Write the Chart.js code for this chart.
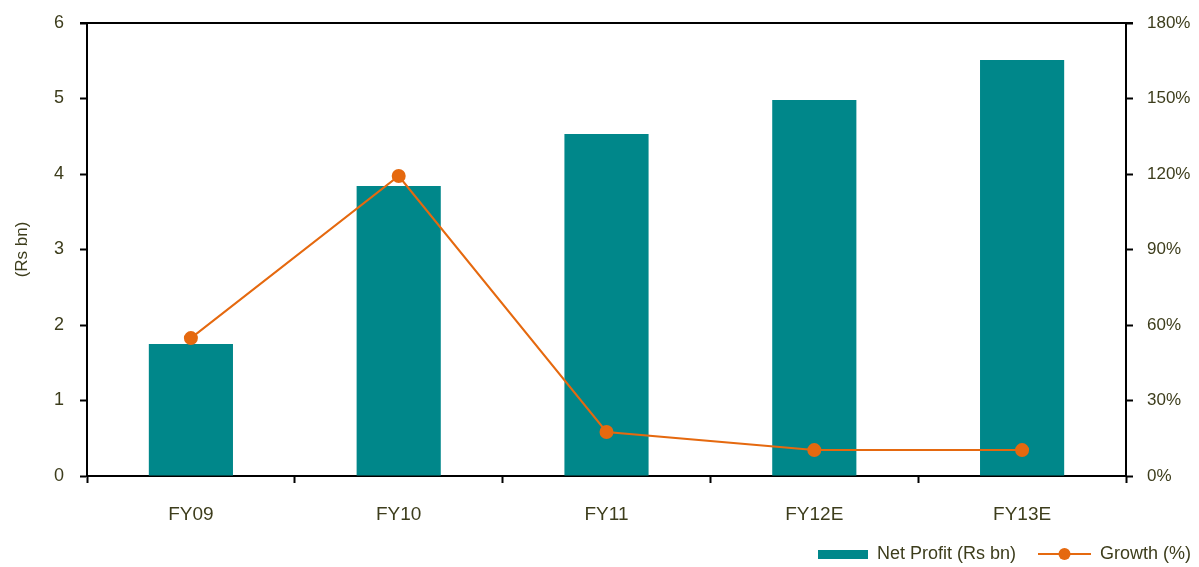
<!DOCTYPE html>
<html>
<head>
<meta charset="utf-8">
<script src="https://cdn.jsdelivr.net/npm/chart.js@4.4.1/dist/chart.umd.min.js"></script>
<style>
  html, body { margin: 0; padding: 0; background: #fff; }
  #wrap { width: 1199px; height: 567px; position: relative; }
</style>
</head>
<body>
<div id="wrap"><canvas id="chart"></canvas></div>
<script>
// data
const categories = ['FY09', 'FY10', 'FY11', 'FY12E', 'FY13E'];
const netProfit = [1.75, 3.84, 4.53, 4.98, 5.51];
const growth = [54.8, 119.2, 17.5, 10.3, 10.3];
const leftTicks = [0, 1, 2, 3, 4, 5, 6];
const rightTicks = [0, 30, 60, 90, 120, 150, 180];

const TEAL = '#00878A';
const ORANGE = '#E5690F';
const TEXT = '#3d3d1c';
const FONT = "'Liberation Sans', Arial, sans-serif";
const SW = 67; // legend swatch width (transparent lead-in + mark)

Chart.defaults.font.family = FONT;
Chart.defaults.color = TEXT;

// legend swatches
function barSwatch() {
    const c = document.createElement('canvas');
    c.width = SW; c.height = 14;
    const g = c.getContext('2d');
    g.fillStyle = TEAL;
    g.fillRect(SW - 50, 3, 50, 9);
    return c;
}
function lineSwatch() {
    const c = document.createElement('canvas');
    c.width = SW; c.height = 14;
    const g = c.getContext('2d');
    g.strokeStyle = ORANGE;
    g.lineWidth = 2;
    g.beginPath(); g.moveTo(SW - 53, 7); g.lineTo(SW, 7); g.stroke();
    g.fillStyle = ORANGE;
    g.beginPath(); g.arc(SW - 26.5, 7, 6, 0, Math.PI * 2); g.fill();
    return c;
}

// top frame line of the plot box
const topBorder = {
    id: 'topBorder',
    afterDraw(chart) {
        const { ctx, chartArea } = chart;
        ctx.save();
        ctx.strokeStyle = '#000';
        ctx.lineWidth = 2;
        ctx.beginPath();
        ctx.moveTo(chartArea.left - 7, chartArea.top);
        ctx.lineTo(chartArea.right + 7, chartArea.top);
        ctx.stroke();
        ctx.restore();
    }
};

function fixWidth(w) {
    return s => {
        s.width = w;
        s.paddingTop = 0;
        s.paddingBottom = 0;
    };
}

new Chart(document.getElementById('chart'), {
    data: {
        labels: categories,
        datasets: [
            {
                type: 'line',
                label: 'Growth (%)',
                data: growth,
                yAxisID: 'y1',
                borderColor: ORANGE,
                backgroundColor: ORANGE,
                borderWidth: 2,
                pointRadius: 6,
                pointHoverRadius: 6,
                tension: 0,
                order: 1
            },
            {
                type: 'bar',
                label: 'Net Profit (Rs bn)',
                data: netProfit,
                yAxisID: 'y',
                backgroundColor: TEAL,
                borderWidth: 0,
                barPercentage: 0.405,
                categoryPercentage: 1,
                order: 2
            }
        ]
    },
    options: {
        responsive: true,
        maintainAspectRatio: false,
        animation: false,
        layout: { padding: { top: 23, left: 0, right: 0, bottom: -6 } },
        scales: {
            x: {
                offset: true,
                afterFit: s => { s.height = 61; },
                grid: {
                    offset: true,
                    drawOnChartArea: false,
                    tickLength: 7,
                    tickWidth: 2,
                    tickColor: '#000'
                },
                border: { color: '#000', width: 2 },
                ticks: { padding: 20, font: { size: 19 }, color: TEXT }
            },
            y: {
                position: 'left',
                min: 0,
                max: 6,
                afterBuildTicks: s => { s.ticks = leftTicks.map(v => ({ value: v })); },
                afterFit: fixWidth(87),
                grid: {
                    drawOnChartArea: false,
                    tickLength: 7,
                    tickWidth: 2,
                    tickColor: '#000'
                },
                border: { color: '#000', width: 2 },
                ticks: { padding: 16, font: { size: 18 }, color: TEXT },
                title: {
                    display: true,
                    text: '(Rs bn)',
                    font: { size: 17 },
                    color: TEXT,
                    padding: { top: 12, bottom: 0 }
                }
            },
            y1: {
                position: 'right',
                min: 0,
                max: 180,
                afterBuildTicks: s => { s.ticks = rightTicks.map(v => ({ value: v })); },
                afterFit: fixWidth(73),
                grid: {
                    drawOnChartArea: false,
                    tickLength: 7,
                    tickWidth: 2,
                    tickColor: '#000'
                },
                border: { color: '#000', width: 2 },
                ticks: {
                    padding: 14,
                    font: { size: 17 },
                    color: TEXT,
                    callback: v => v + '%'
                }
            }
        },
        plugins: {
            tooltip: { enabled: false },
            legend: {
                position: 'bottom',
                align: 'end',
                labels: {
                    usePointStyle: true,
                    boxWidth: SW,
                    pointStyleWidth: SW,
                    padding: 8,
                    font: { size: 18 },
                    color: TEXT,
                    generateLabels: () => [
                        { text: 'Net Profit (Rs bn)', pointStyle: barSwatch(), fontColor: TEXT, datasetIndex: 1, lineWidth: 0 },
                        { text: 'Growth (%)', pointStyle: lineSwatch(), fontColor: TEXT, datasetIndex: 0, lineWidth: 0 }
                    ]
                }
            }
        }
    },
    plugins: [topBorder]
});
</script>
</body>
</html>
